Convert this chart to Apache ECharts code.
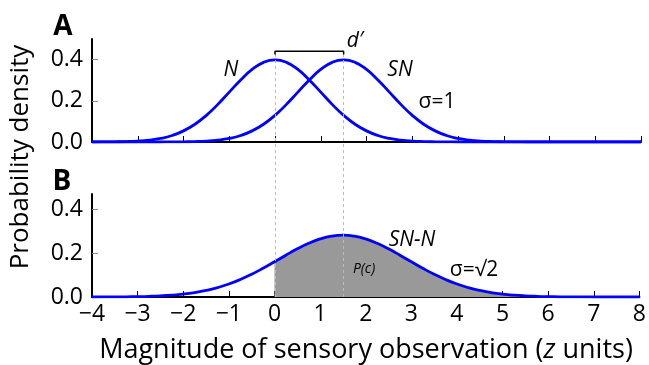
<!DOCTYPE html>
<html>
<head>
<meta charset="utf-8">
<script src="https://cdn.jsdelivr.net/npm/echarts@6/dist/echarts.min.js"></script>
<style>
  html, body { margin: 0; padding: 0; background: #fff; }
  #main { width: 649px; height: 365px; }
</style>
</head>
<body>
<div id="main"></div>
<script>
// z positions (x axis), every 0.25 units
var zValues = [-4, -3.75, -3.5, -3.25, -3, -2.75, -2.5, -2.25, -2, -1.75, -1.5, -1.25, -1, -0.75, -0.5, -0.25,
  0, 0.25, 0.5, 0.75, 1, 1.25, 1.5, 1.75, 2, 2.25, 2.5, 2.75, 3, 3.25, 3.5, 3.75,
  4, 4.25, 4.5, 4.75, 5, 5.25, 5.5, 5.75, 6, 6.25, 6.5, 6.75, 7, 7.25, 7.5, 7.75, 8];

// panel A: noise (N) and signal+noise (SN)
var noiseDensity = [0.0001, 0.0004, 0.0009, 0.0020, 0.0044, 0.0091, 0.0175, 0.0317, 0.0540, 0.0863, 0.1295, 0.1826, 0.2420, 0.3011, 0.3521, 0.3867,
  0.3989, 0.3867, 0.3521, 0.3011, 0.2420, 0.1826, 0.1295, 0.0863, 0.0540, 0.0317, 0.0175, 0.0091, 0.0044, 0.0020, 0.0009, 0.0004,
  0.0001, 0, 0, 0, 0, 0, 0, 0, 0, 0, 0, 0, 0, 0, 0, 0, 0];
var signalDensity = [0, 0, 0, 0, 0, 0, 0.0001, 0.0004, 0.0009, 0.0020, 0.0044, 0.0091, 0.0175, 0.0317, 0.0540, 0.0863,
  0.1295, 0.1826, 0.2420, 0.3011, 0.3521, 0.3867, 0.3989, 0.3867, 0.3521, 0.3011, 0.2420, 0.1826, 0.1295, 0.0863, 0.0540, 0.0317,
  0.0175, 0.0091, 0.0044, 0.0020, 0.0009, 0.0004, 0.0001, 0, 0, 0, 0, 0, 0, 0, 0, 0, 0];

// panel B: difference SN-N
var diffDensity = [0.0001, 0.0003, 0.0005, 0.0010, 0.0018, 0.0031, 0.0052, 0.0084, 0.0132, 0.0201, 0.0297, 0.0426, 0.0591, 0.0796, 0.1038, 0.1312,
  0.1607, 0.1909, 0.2197, 0.2451, 0.2650, 0.2777, 0.2821, 0.2777, 0.2650, 0.2451, 0.2197, 0.1909, 0.1607, 0.1312, 0.1038, 0.0796,
  0.0591, 0.0426, 0.0297, 0.0201, 0.0132, 0.0084, 0.0052, 0.0031, 0.0018, 0.0010, 0.0005, 0.0003, 0.0001, 0.0001, 0, 0, 0];

var yTicks = [0, 0.2, 0.4];
var criterionZ = [0, 1.5];           // dashed guides
var shadeFrom = 0;                   // P(c) shading starts here
var dPrimeX = [0, 0, 1.5, 1.5];      // d' bracket
var dPrimeY = [0.425, 0.44, 0.44, 0.425];

var font = '"Open Sans", sans-serif';
var blue = '#0000ff';

function pairs(xs, ys) {
  return xs.map(function(x, i) { return [x, ys[i]]; });
}
var shadeData = pairs(zValues, diffDensity).filter(function(p) { return p[0] >= shadeFrom; });

function xAxisFor(grid, showLabels) {
  return {
    type: 'value', gridIndex: grid, min: -4, max: 8, interval: 1,
    axisLine: { show: true, onZero: false, lineStyle: { color: '#000', width: 2 } },
    axisTick: { show: true, inside: true, length: 6, lineStyle: { color: '#000', width: 1 } },
    splitLine: { show: false },
    axisLabel: {
      show: showLabels, color: '#000', fontSize: 23, fontFamily: font, margin: 6,
      formatter: function(v) { return v < 0 ? '\u2212' + (-v) : String(v); }
    }
  };
}
function yAxisFor(grid, max) {
  return {
    type: 'value', gridIndex: grid, min: 0, max: max,
    axisLine: { show: true, onZero: false, lineStyle: { color: '#000', width: 2 } },
    axisTick: { show: true, inside: true, length: 6, customValues: yTicks, lineStyle: { color: '#888', width: 1 } },
    splitLine: { show: false },
    axisLabel: {
      color: '#000', fontSize: 23, fontFamily: font, margin: 9, customValues: yTicks,
      formatter: function(v) { return v.toFixed(1); }
    }
  };
}

function curve(name, grid, data) {
  return {
    name: name, type: 'line', xAxisIndex: grid, yAxisIndex: grid, data: data,
    smooth: true, symbol: 'none', z: 4,
    lineStyle: { color: blue, width: 2.8 }
  };
}

function txt(x, y, text, f, extra) {
  return {
    type: 'text', x: x, y: y, z: 10,
    style: Object.assign({ text: text, font: f, fill: '#000', textAlign: 'center', textVerticalAlign: 'middle' }, extra || {})
  };
}

var chart = echarts.init(document.getElementById('main'), null, { renderer: 'canvas' });
chart.setOption({
  animation: false,
  grid: [
    { left: 92, right: 8, top: 39, height: 103 },
    { left: 92, right: 8, top: 194, height: 103 },
    { left: 92, right: 8, top: 52, height: 245 }
  ],
  xAxis: [xAxisFor(0, false), xAxisFor(1, true), { type: 'value', gridIndex: 2, min: -4, max: 8, show: false }],
  yAxis: [yAxisFor(0, 0.5), yAxisFor(1, 0.47), { type: 'value', gridIndex: 2, min: 0, max: 1, show: false }],
  series: [
    curve('N', 0, pairs(zValues, noiseDensity)),
    curve('SN', 0, pairs(zValues, signalDensity)),
    {
      name: "d'", type: 'line', xAxisIndex: 0, yAxisIndex: 0, data: pairs(dPrimeX, dPrimeY),
      symbol: 'none', z: 5, lineStyle: { color: '#000', width: 1.5 }
    },
    {
      name: 'P(c)', type: 'line', xAxisIndex: 1, yAxisIndex: 1, data: shadeData,
      smooth: true, symbol: 'none', z: 1,
      lineStyle: { width: 0 }, areaStyle: { color: '#999999', opacity: 1 }
    },
    curve('SN-N', 1, pairs(zValues, diffDensity)),
    {
      name: 'guides', type: 'line', xAxisIndex: 2, yAxisIndex: 2, data: [[-4, 0]],
      symbol: 'none', z: 2, lineStyle: { width: 0 },
      markLine: {
        silent: true, symbol: 'none', label: { show: false },
        lineStyle: { color: '#bbbbbb', width: 1, type: [3, 3] },
        data: criterionZ.map(function(z) { return { xAxis: z }; })
      }
    }
  ],
  graphic: [
    txt(63, 27, 'A', 'bold 28px ' + font),
    txt(62, 182, 'B', 'bold 28px ' + font),
    txt(231, 70, 'N', 'italic 21px ' + font),
    txt(400, 70, 'SN', 'italic 21px ' + font),
    txt(437, 102, 'σ=1', '21px ' + font),
    txt(355, 41, 'd′', 'italic 21px ' + font),
    txt(412, 240, 'SN-N', 'italic 21px ' + font),
    txt(474, 270, 'σ=√2', '21px ' + font),
    txt(364, 269, 'P(c)', 'italic 14px ' + font),
    {
      type: 'text', x: 21, y: 157, rotation: Math.PI / 2, z: 10,
      style: { text: 'Probability density', font: '26px ' + font, fill: '#000', textAlign: 'center', textVerticalAlign: 'middle' }
    },
    {
      type: 'text', x: 366, y: 350, z: 10,
      style: {
        text: 'Magnitude of sensory observation ({i|z} units)',
        fontSize: 27, fontFamily: font, fill: '#000', textAlign: 'center', textVerticalAlign: 'middle',
        rich: { i: { fontStyle: 'italic', fontSize: 27, fontFamily: font, fill: '#000' } }
      }
    }
  ]
});
</script>
</body>
</html>
